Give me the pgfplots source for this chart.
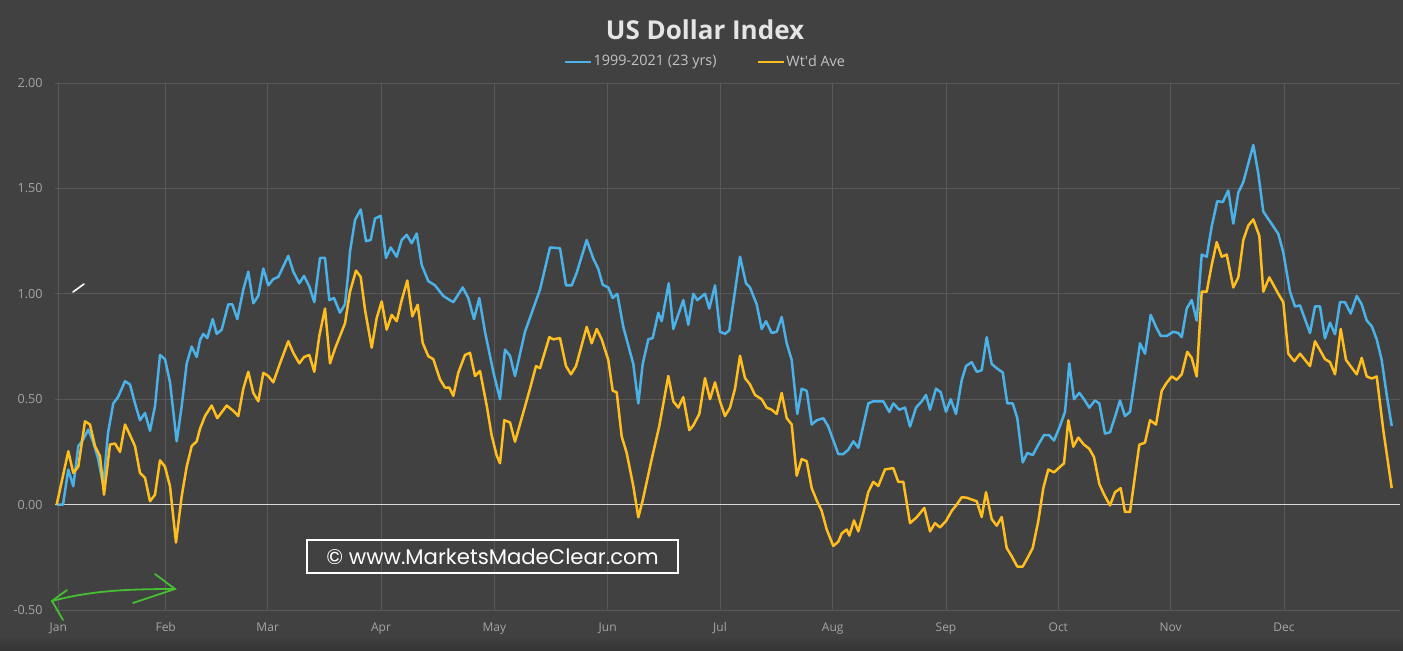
\documentclass[border=0pt]{standalone}
\usepackage{fontspec}
\setmainfont{Open Sans}
\newfontfamily\wmfont{Poppins}
\usepackage{pgfplots}
\pgfplotsset{compat=1.18}
\definecolor{bg}{RGB}{65,65,65}
\definecolor{bgdark}{RGB}{52,52,52}
\definecolor{gridc}{RGB}{88,88,88}
\definecolor{tickc}{RGB}{165,165,165}
\definecolor{legc}{RGB}{195,195,195}
\definecolor{titlec}{RGB}{228,228,228}
\definecolor{zeroc}{RGB}{215,215,215}
\definecolor{blueline}{RGB}{74,178,232}
\definecolor{goldline}{RGB}{255,190,30}
\definecolor{arrowg}{RGB}{70,190,50}
\begin{document}
\begin{tikzpicture}
\fill[bg] (0pt,0pt) rectangle (701.5pt,325pt);
\useasboundingbox (0pt,0pt) rectangle (701.5pt,325pt);
\shade[top color=bg, bottom color=bgdark] (0pt,0pt) rectangle (701.5pt,7pt);
\begin{axis}[
  at={(27.5pt,20pt)}, anchor=south west,
  scale only axis, width=672.5pt, height=263.5pt,
  xmin=55, xmax=1400, ymin=-0.5, ymax=2,
  axis line style={draw=none}, tick style={draw=none},
  major tick length=0pt,
  /pgf/number format/assume math mode=true,
  xtick={58.3,165.7,267.7,381,494.3,607.7,720,832.7,946,1058.3,1170.7,1284},
  xticklabels={Jan,Feb,Mar,Apr,May,Jun,Jul,Aug,Sep,Oct,Nov,Dec},
  ytick={-0.5,0,0.5,1,1.5,2},
  yticklabel style={/pgf/number format/.cd, fixed, fixed zerofill, precision=2, assume math mode=true, /tikz/.cd, anchor=east, inner sep=0pt, xshift=-6pt, font=\fontsize{6.3}{7}\selectfont, text=tickc},
  xticklabel style={anchor=base, inner sep=0pt, yshift=-10.5pt, font=\fontsize{6}{7}\selectfont, text=tickc},
  grid=major, grid style={gridc, line width=0.5pt},
  title={\textbf{US Dollar Index}},
  title style={at={(axis description cs:0.4833,1.078)}, anchor=center, font=\fontsize{13}{15}\selectfont, text=titlec},
  legend columns=2,
  legend style={at={(axis description cs:0.4833,1.0395)}, anchor=center, draw=none, fill=none, text=legc, font=\fontsize{7.2}{9}\selectfont, /tikz/every even column/.append style={column sep=19.5pt}, inner sep=0pt, nodes={inner sep=0.6pt}},
  legend image code/.code={\draw[#1] (0pt,0pt) -- (13pt,0pt);},
]
\addplot[zeroc, line width=0.8pt, forget plot] coordinates {(55,0)(1400,0)};
\addplot[blueline, line width=1.25pt, line join=round] coordinates {
(57,0)(63,0)(68.3,0.166)(73.3,0.087)(78.3,0.277)(83.3,0.31)(88.3,0.356)(93,0.30)(98,0.22)(103.3,0.09)(108,0.34)(113.3,0.48)(118,0.51)(125,0.585)(130,0.57)(135,0.48)(140,0.40)(145,0.435)(150,0.35)(155,0.467)(160,0.71)(165,0.69)(170,0.58)(176.7,0.30)(181.7,0.467)(186.7,0.67)(191.7,0.75)(196.7,0.70)(200,0.78)(203.3,0.81)(207.3,0.79)(212.7,0.88)(216.7,0.81)(221.7,0.83)(228.3,0.95)(232.3,0.95)(237.3,0.88)(243.3,1.02)(248.3,1.105)(253.3,0.955)(258.3,0.99)(263.3,1.12)(268.3,1.04)(273.3,1.07)(278.3,1.08)(288.3,1.18)(293.3,1.105)(299.3,1.05)(304,1.085)(309.3,1.035)(314.3,0.96)(320,1.17)(325,1.17)(329.3,0.97)(334,0.98)(340,0.91)(345,0.95)(348.3,1.10)(350,1.2)(355,1.35)(360.7,1.40)(366,1.25)(370.7,1.255)(375,1.357)(380.7,1.37)(386,1.17)(390.7,1.22)(396.7,1.176)(401.7,1.255)(406.7,1.28)(411.7,1.24)(416.7,1.286)(421.7,1.137)(428.3,1.06)(435,1.04)(443.3,0.99)(453.3,0.96)(462.7,1.03)(468.3,0.98)(474,0.88)(479.3,0.98)(485,0.82)(493.3,0.63)(500,0.50)(505,0.735)(510,0.706)(515,0.61)(525,0.82)(540,1.02)(550,1.22)(560,1.216)(566,1.04)(571.7,1.04)(576.7,1.10)(586.7,1.255)(593.3,1.167)(598.3,1.118)(602.7,1.043)(608.3,1.03)(612.7,0.98)(617.3,1.0)(623.3,0.843)(633.3,0.667)(638.3,0.48)(642.7,0.667)(648.3,0.784)(652.7,0.79)(658.3,0.91)(661.7,0.87)(668.7,1.05)(673.3,0.833)(683.3,0.97)(688.3,0.853)(693.3,1.0)(697.3,0.97)(705,1.0)(709.3,0.93)(715,1.04)(720,0.82)(725,0.81)(729.3,0.827)(740,1.176)(746,1.05)(750,1.03)(756.7,0.95)(761.7,0.833)(766,0.87)(771.7,0.814)(776.7,0.82)(781.7,0.89)(786.7,0.765)(791.7,0.686)(797.3,0.43)(801.7,0.55)(806.7,0.54)(811.7,0.38)(816.7,0.40)(823.3,0.41)(828.3,0.37)(838.3,0.24)(843.3,0.24)(848.3,0.26)(853.3,0.30)(858.3,0.27)(868.3,0.48)(873.3,0.49)(883.3,0.49)(889.3,0.44)(893.3,0.48)(899.3,0.45)(905,0.46)(910,0.37)(916,0.46)(921.7,0.49)(926,0.52)(930,0.45)(936,0.55)(940.7,0.533)(946,0.44)(950.7,0.50)(956,0.43)(961.7,0.59)(966,0.657)(971.7,0.676)(976.7,0.63)(981.7,0.637)(986.7,0.794)(991.7,0.667)(996.7,0.647)(1002.7,0.627)(1007.3,0.48)(1012.7,0.48)(1017.3,0.41)(1022.7,0.20)(1027.3,0.245)(1032.7,0.235)(1038.3,0.284)(1044,0.33)(1049,0.33)(1054,0.304)(1060,0.373)(1065,0.44)(1069.3,0.67)(1074,0.50)(1079.3,0.53)(1084,0.50)(1089.3,0.46)(1095,0.494)(1099.3,0.48)(1105,0.337)(1110,0.343)(1115,0.416)(1120,0.494)(1125,0.42)(1130,0.44)(1135,0.60)(1140,0.765)(1145,0.716)(1150.7,0.90)(1156,0.843)(1160.7,0.80)(1166.7,0.80)(1173.3,0.82)(1178.3,0.814)(1181.7,0.794)(1186.7,0.93)(1191.7,0.97)(1196.7,0.873)(1201.7,1.186)(1206.7,1.176)(1211.7,1.32)(1217.3,1.44)(1222.7,1.435)(1228.3,1.49)(1233.3,1.333)(1238.3,1.48)(1243.3,1.53)(1248.3,1.618)(1253.3,1.706)(1258.3,1.57)(1263.3,1.39)(1270,1.343)(1278.3,1.284)(1283.3,1.196)(1290,1.01)(1295,0.94)(1300,0.945)(1310,0.814)(1315,0.94)(1320,0.94)(1325,0.788)(1330,0.863)(1335,0.808)(1340,0.96)(1345,0.96)(1350.7,0.906)(1356.7,0.99)(1361.7,0.95)(1366.7,0.873)(1371.7,0.847)(1376.7,0.784)(1381.7,0.686)(1386.7,0.52)(1391.7,0.373)
};
\addlegendentry{1999-2021 (23 yrs)}
\addplot[goldline, line width=1.25pt, line join=round] coordinates {
(56.7,0)(68.3,0.253)(73.3,0.15)(78.3,0.18)(85,0.395)(90,0.38)(95,0.277)(100,0.23)(104,0.047)(110,0.285)(115,0.29)(120,0.25)(125,0.38)(130,0.33)(135,0.277)(140,0.15)(145,0.127)(150,0.016)(155,0.047)(160,0.21)(165,0.18)(170,0.087)(176,-0.18)(181.7,0.04)(186.7,0.18)(191.7,0.277)(196.7,0.30)(200,0.36)(205,0.42)(211.7,0.47)(217.3,0.41)(226.7,0.47)(233.3,0.445)(238.3,0.42)(243.3,0.55)(248.3,0.63)(253.3,0.53)(258.3,0.49)(263.3,0.625)(268.3,0.61)(273.3,0.58)(280,0.67)(288.3,0.775)(293.3,0.72)(299.3,0.67)(304,0.70)(309.3,0.71)(314.3,0.63)(319.3,0.80)(325,0.93)(330,0.67)(335,0.74)(340,0.80)(345,0.86)(350,1.01)(356,1.11)(360.7,1.08)(365,0.925)(371.7,0.744)(376.7,0.885)(381.7,0.964)(386.7,0.83)(391.7,0.90)(396.7,0.87)(401.7,0.97)(407.3,1.063)(412.3,0.893)(417.7,0.948)(422.7,0.767)(428.3,0.704)(433.3,0.69)(440,0.594)(445,0.555)(449.3,0.555)(453.3,0.516)(458.3,0.626)(465,0.71)(470,0.72)(475,0.61)(480,0.634)(486.7,0.47)(491.7,0.327)(496.7,0.233)(500,0.196)(504.3,0.40)(510,0.39)(515,0.298)(521.7,0.41)(530,0.55)(536,0.657)(540,0.647)(549.3,0.794)(553.3,0.784)(560,0.79)(566,0.657)(571,0.618)(576,0.657)(586.7,0.843)(591.7,0.765)(596.7,0.833)(601.7,0.784)(608.3,0.686)(612.7,0.54)(616.7,0.533)(621.7,0.323)(626.7,0.245)(633.3,0.088)(638.3,-0.06)(642.7,0.02)(651.7,0.216)(659.3,0.373)(668.3,0.61)(673.3,0.49)(678.3,0.46)(683.3,0.51)(689.3,0.353)(693.3,0.376)(699.3,0.43)(705,0.60)(710,0.50)(715,0.58)(720,0.49)(725,0.42)(730,0.46)(735,0.55)(740,0.706)(745,0.60)(750,0.57)(755,0.52)(761.7,0.50)(766.7,0.46)(771.7,0.45)(776.7,0.43)(781.7,0.53)(786.7,0.41)(791.7,0.38)(796.7,0.137)(801.7,0.216)(806.7,0.206)(811.7,0.078)(816.7,0.02)(821.7,-0.03)(826.7,-0.118)(833.3,-0.196)(838.3,-0.176)(841.7,-0.137)(846.7,-0.118)(849.3,-0.147)(854,-0.075)(858.3,-0.127)(863.3,-0.04)(868.3,0.06)(873.3,0.108)(878.3,0.088)(885,0.167)(893.3,0.173)(898.3,0.108)(903.3,0.108)(910,-0.088)(916.7,-0.06)(924.3,-0.016)(930,-0.127)(935,-0.088)(940,-0.108)(946,-0.078)(951.7,-0.03)(956.7,0.0)(961.7,0.035)(966.7,0.033)(971.7,0.024)(976.7,0.016)(981.7,-0.059)(986,0.059)(991.7,-0.069)(996.7,-0.10)(1001.7,-0.059)(1006.7,-0.206)(1011.7,-0.245)(1017.3,-0.294)(1022.7,-0.294)(1027.3,-0.255)(1032.7,-0.206)(1038.3,-0.078)(1043.3,0.078)(1048.3,0.167)(1054,0.153)(1059.3,0.176)(1064,0.196)(1068.3,0.40)(1073.3,0.275)(1078.3,0.318)(1084,0.284)(1089.3,0.265)(1094,0.225)(1099.3,0.098)(1104,0.049)(1110,-0.004)(1115,0.059)(1120.7,0.078)(1125,-0.035)(1130,-0.035)(1135,0.137)(1139.3,0.284)(1145,0.294)(1150,0.40)(1156,0.38)(1161.7,0.54)(1166.7,0.578)(1171.7,0.608)(1176.7,0.592)(1181.7,0.618)(1187.3,0.725)(1191.7,0.696)(1196.7,0.608)(1201.7,1.01)(1206.7,1.01)(1211.7,1.137)(1216.7,1.245)(1221.7,1.176)(1226.7,1.186)(1233.3,1.03)(1238.3,1.078)(1243.3,1.255)(1248.3,1.324)(1253.3,1.353)(1259.3,1.275)(1263.3,1.01)(1269.3,1.078)(1278.3,1.0)(1283.3,0.96)(1288.3,0.716)(1294.3,0.68)(1300,0.716)(1310,0.657)(1315,0.775)(1325,0.69)(1330,0.676)(1335,0.618)(1340.7,0.833)(1346,0.686)(1356.7,0.618)(1361.7,0.696)(1366.7,0.608)(1371.7,0.598)(1376.7,0.608)(1383.3,0.353)(1391.7,0.078)
};
\addlegendentry{Wt\textquotesingle d Ave}
\node[draw=white, line width=1.1pt, minimum width=185.5pt, minimum height=16.5pt, inner sep=0pt, text=white, font=\wmfont\fontsize{10.6}{12}\selectfont] at (axis description cs:0.3253,0.1015) {\textcopyright{} www.MarketsMadeClear.com};
\end{axis}
% hand-drawn annotations
\draw[arrowg, line width=0.9pt, line cap=round] (26pt,24.5pt) .. controls (45pt,29.5pt) and (62pt,30.5pt) .. (87.5pt,30.5pt);
\draw[arrowg, line width=0.9pt, line cap=round] (77.5pt,38pt) -- (87.5pt,30.5pt) -- (66.5pt,23.5pt);
\draw[arrowg, line width=0.9pt, line cap=round] (33.5pt,30pt) -- (26pt,24.5pt) -- (31.5pt,15pt);
\draw[white, line width=0.8pt, line cap=round] (36.5pt,179pt) -- (42pt,183pt);
\end{tikzpicture}
\end{document}
